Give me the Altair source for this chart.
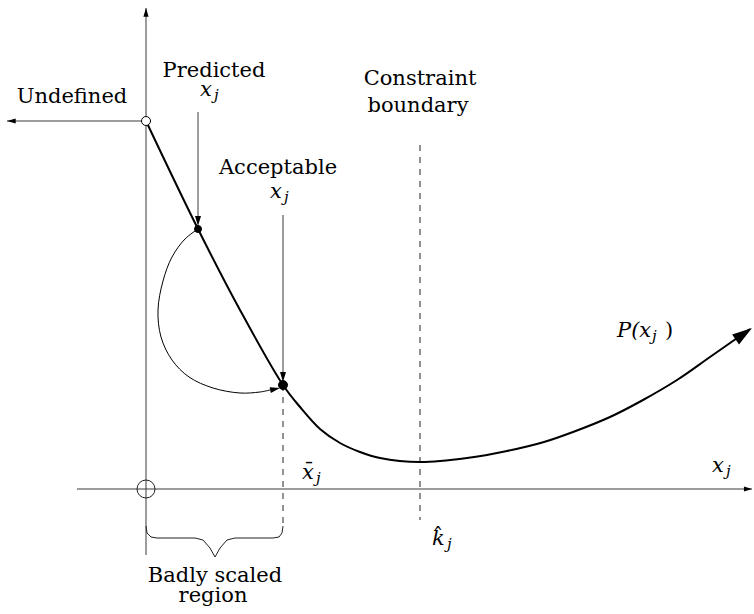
import altair as alt
import pandas as pd

# Diagram coordinates: the origin sits where the two axes cross.
X_DOMAIN = [-146, 608]
Y_DOMAIN = [-125, 489]

# Objective function P(x_j): steep drop, minimum at the boundary, rising tail
p_x = [0, 52, 94, 137, 154, 174, 194, 214, 234, 274, 321, 361,
       398, 427, 464, 497, 531, 564, 604]
p_y = [368, 260, 179, 104, 82, 60, 46, 37, 31, 27, 31, 38,
       47, 57, 72, 89, 109, 132, 160]

# Step from the predicted point back to the acceptable point
arc_x = [52, 39, 26, 17, 12, 15, 26, 43, 67, 94, 114, 124]
arc_y = [260, 250, 232, 208, 179, 152, 129, 112, 101, 96, 97, 99]

# Brace under the badly scaled region
brace_x = [0, 1, 5, 11, 49, 57, 64, 69, 74, 81, 89, 127, 133, 136, 137]
brace_y = [-37, -44, -48, -49, -49, -51, -59, -68, -59, -51, -49, -49, -48, -44, -37]

# Solid segments: axes, "undefined" branch, pointer arrows
seg_x = [0, -69, -139, 52, 137]
seg_x2 = [0, 606, 0, 52, 137]
seg_y = [-66, 0, 368, 377, 274]
seg_y2 = [481, 0, 368, 266, 110]

# Dashed guides: x-bar_j and the constraint boundary k-hat_j
dash_x = [137, 274]
dash_y = [104, 344]
dash_y2 = [-38, -31]

# Arrowheads (tip position, direction in degrees clockwise from up, size)
head_x = [0, -139, 606, 52, 137, 134, 606]
head_y = [481, 368, 0, 263, 107, 101, 161]
head_angle = [0, 270, 90, 180, 180, 78, 55]
head_size = [300, 300, 260, 400, 400, 400, 1600]

# Point markers: open end of the curve, predicted and acceptable x_j
pt_x = [0, 52, 137]
pt_y = [368, 260, 104]
pt_fill = ["white", "black", "black"]
pt_size = [81, 49, 81]

# Word labels (centre, baseline)
word_text = ["Undefined", "Predicted", "Acceptable", "Constraint", "boundary",
             "Badly scaled", "region"]
word_x = [-74, 68, 132, 274, 272, 69, 67]
word_y = [386, 412, 315, 404, 377, -93, -113]

# Math labels (left edge, baseline) and their subscript j
math_text = ["x", "x", "x", "k", "x", "P(x"]
math_x = [54, 124, 156, 286, 566, 471]
math_y = [393, 291, 10, -56, 17, 152]
sub_x = [68, 138, 170, 301, 580, 506]
sub_y = [389, 287, 6, -60, 13, 148]

# Accents and the closing parenthesis of P(x_j)
accent_text = ["ˉ", "ˆ", ")"]
accent_x = [163, 292, 519]
accent_y = [12, -54, 152]
accent_align = ["center", "center", "left"]

ARROW = "M0,0L0.3,1L-0.3,1Z"
SERIF = "DejaVu Serif"

xs = alt.Scale(domain=X_DOMAIN, nice=False, zero=False)
ys = alt.Scale(domain=Y_DOMAIN, nice=False, zero=False)


def X(f="x"):
    return alt.X(f"{f}:Q", scale=xs, axis=None)


def Y(f="y"):
    return alt.Y(f"{f}:Q", scale=ys, axis=None)


segs = pd.DataFrame({"x": seg_x, "x2": seg_x2, "y": seg_y, "y2": seg_y2})
axes_layer = alt.Chart(segs).mark_rule(color="#3a3a3a", strokeWidth=1).encode(
    x=X(), x2="x2:Q", y=Y(), y2="y2:Q")

dashes = pd.DataFrame({"x": dash_x, "y": dash_y, "y2": dash_y2})
dash_layer = alt.Chart(dashes).mark_rule(
    color="#222222", strokeWidth=1, strokeDash=[6, 6]).encode(
    x=X(), y=Y(), y2="y2:Q")

curve = pd.DataFrame({"x": p_x, "y": p_y, "i": range(len(p_x))})
curve_layer = alt.Chart(curve).mark_line(
    color="black", strokeWidth=2, interpolate="catmull-rom").encode(
    x=X(), y=Y(), order="i:Q")

arc = pd.DataFrame({"x": arc_x, "y": arc_y, "i": range(len(arc_x))})
arc_layer = alt.Chart(arc).mark_line(
    color="black", strokeWidth=1, interpolate="catmull-rom").encode(
    x=X(), y=Y(), order="i:Q")

brace = pd.DataFrame({"x": brace_x, "y": brace_y, "i": range(len(brace_x))})
brace_layer = alt.Chart(brace).mark_line(
    color="#222222", strokeWidth=1).encode(x=X(), y=Y(), order="i:Q")

heads = pd.DataFrame({"x": head_x, "y": head_y, "a": head_angle, "s": head_size})
head_layer = alt.Chart(heads).mark_point(
    shape=ARROW, filled=True, color="black", opacity=1).encode(
    x=X(), y=Y(),
    angle=alt.Angle("a:Q", scale=None),
    size=alt.Size("s:Q", scale=None))

pts = pd.DataFrame({"x": pt_x, "y": pt_y, "f": pt_fill, "s": pt_size})
pt_layer = alt.Chart(pts).mark_point(
    shape="circle", filled=True, stroke="black", strokeWidth=1, opacity=1).encode(
    x=X(), y=Y(),
    fill=alt.Fill("f:N", scale=None),
    size=alt.Size("s:Q", scale=None))

origin_layer = alt.Chart(pd.DataFrame({"x": [0], "y": [0]})).mark_point(
    shape="circle", filled=False, color="#222222", strokeWidth=1,
    size=324, opacity=1).encode(x=X(), y=Y())

words = pd.DataFrame({"x": word_x, "y": word_y, "t": word_text})
word_layer = alt.Chart(words).mark_text(
    font=SERIF, fontSize=21, align="center", baseline="alphabetic",
    color="black").encode(x=X(), y=Y(), text="t:N")

maths = pd.DataFrame({"x": math_x, "y": math_y, "t": math_text})
math_layer = alt.Chart(maths).mark_text(
    font=SERIF, fontSize=21, fontStyle="italic", align="left",
    baseline="alphabetic", color="black").encode(x=X(), y=Y(), text="t:N")

subs = pd.DataFrame({"x": sub_x, "y": sub_y, "t": ["j"] * len(sub_x)})
sub_layer = alt.Chart(subs).mark_text(
    font=SERIF, fontSize=15, fontStyle="italic", align="left",
    baseline="alphabetic", color="black").encode(x=X(), y=Y(), text="t:N")

accents = pd.DataFrame({"x": accent_x, "y": accent_y, "t": accent_text,
                        "al": accent_align})
accent_center = alt.Chart(accents[accents.al == "center"]).mark_text(
    font=SERIF, fontSize=21, align="center", baseline="alphabetic",
    color="black").encode(x=X(), y=Y(), text="t:N")
accent_left = alt.Chart(accents[accents.al == "left"]).mark_text(
    font=SERIF, fontSize=21, align="left", baseline="alphabetic",
    color="black").encode(x=X(), y=Y(), text="t:N")

chart = alt.layer(
    axes_layer, dash_layer, brace_layer, arc_layer, curve_layer,
    head_layer, origin_layer, pt_layer,
    word_layer, math_layer, sub_layer, accent_center, accent_left,
).properties(
    width=754, height=614, padding=0,
    autosize=alt.AutoSizeParams(type="none"),
    background="white",
).configure_view(stroke=None)

chart.save("out.html", embed_options={"renderer": "svg", "actions": False})
